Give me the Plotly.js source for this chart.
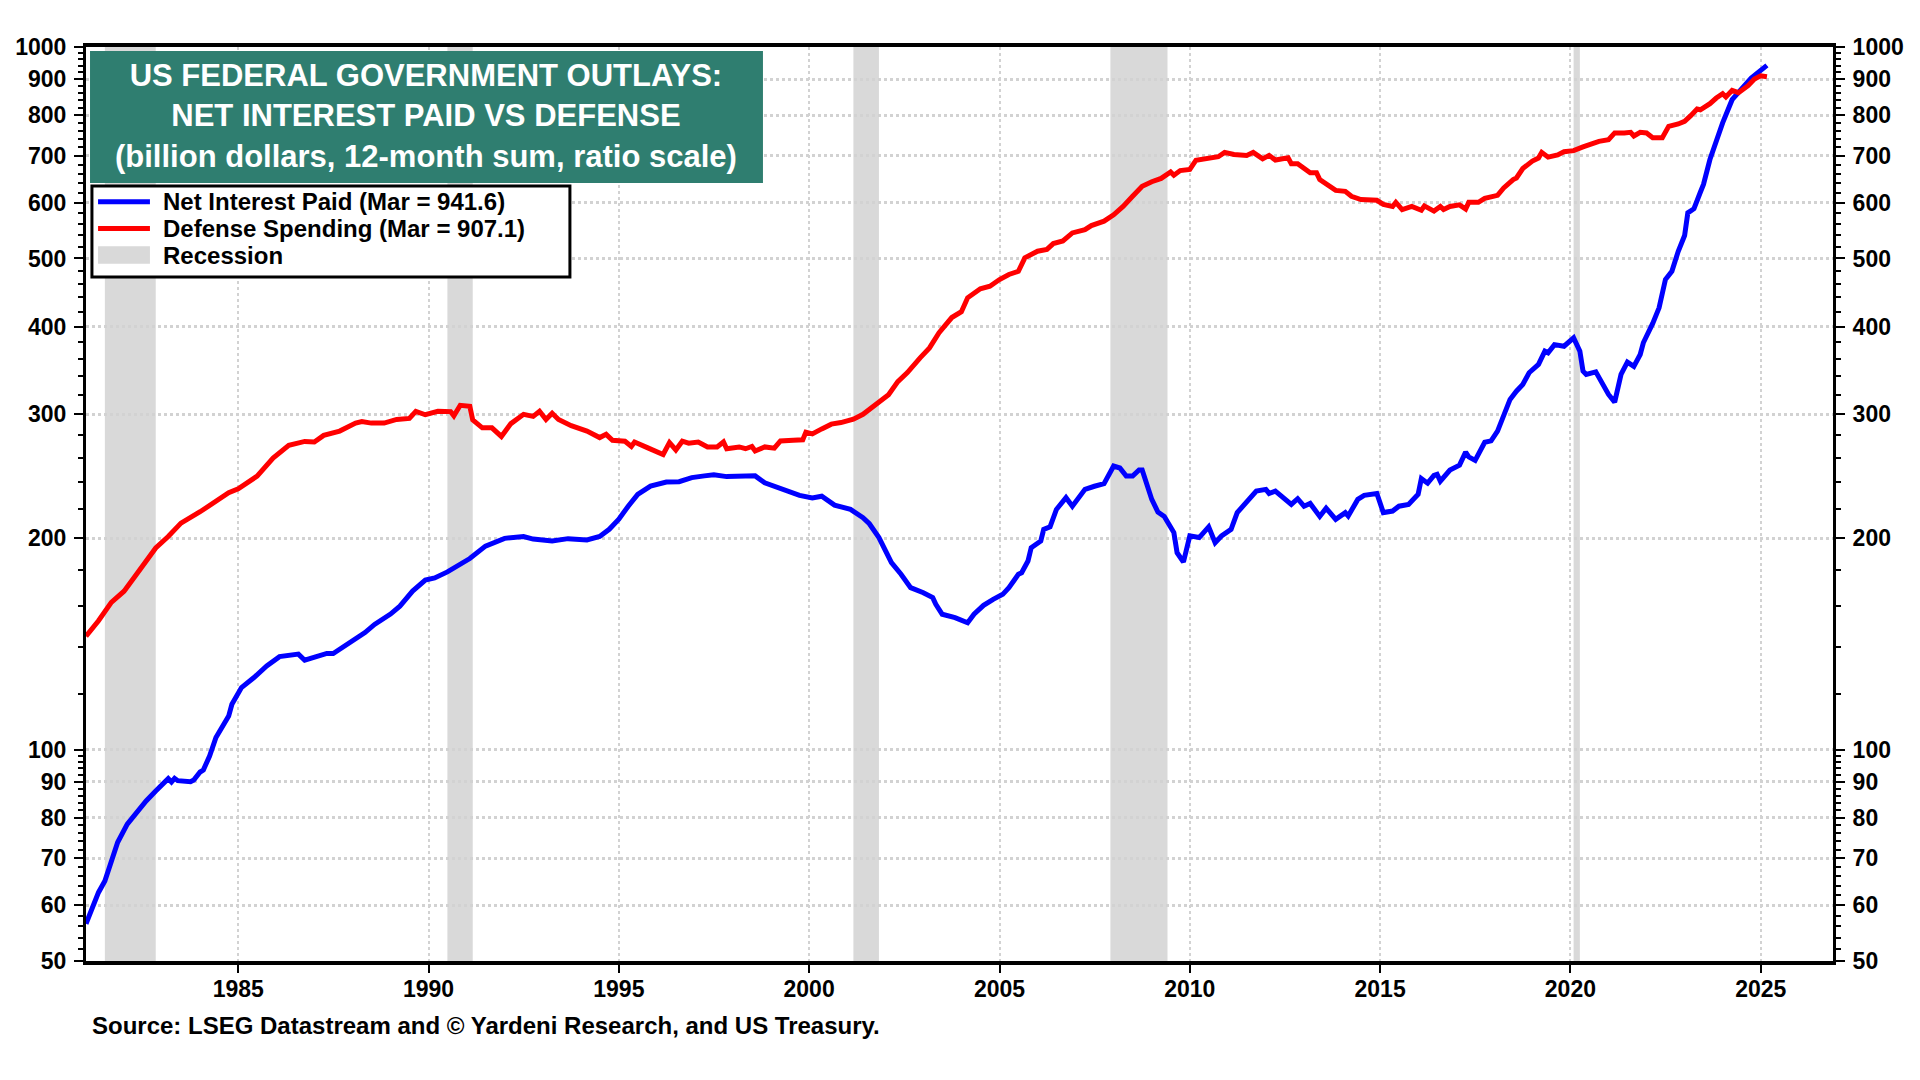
<!DOCTYPE html>
<html>
<head>
<meta charset="utf-8">
<script src="https://cdn.plot.ly/plotly-3.0.1.min.js"></script>
<style>
  html, body { margin: 0; padding: 0; background: #ffffff; }
  #chart { width: 1920px; height: 1080px; }
</style>
</head>
<body>
<div id="chart"></div>
<script>
// Net interest paid, 12-month sum, billion dollars
const interestDates = [
  "1981-01","1981-05","1981-07","1981-09","1981-11","1982-02","1982-05","1982-08","1982-11",
  "1983-03","1983-04","1983-05","1983-06","1983-10","1983-11","1984-01","1984-02","1984-04",
  "1984-06","1984-08","1984-10","1984-11","1985-02","1985-06","1985-10","1986-02","1986-05",
  "1986-08","1986-10","1987-01","1987-05","1987-07","1987-11","1988-02","1988-05","1988-08",
  "1989-01","1989-04","1989-08","1989-12","1990-03","1990-07","1990-11","1991-02","1991-07",
  "1992-01","1992-07","1992-10","1993-04","1993-09","1994-03","1994-07","1994-10","1995-01",
  "1995-04","1995-07","1995-11","1996-04","1996-08","1996-12","1997-04","1997-07","1997-11",
  "1998-03","1998-08","1998-11","1999-04","1999-10","2000-02","2000-05","2000-09","2001-02",
  "2001-06","2001-08","2001-11","2002-03","2002-06","2002-09","2003-01","2003-04","2003-05",
  "2003-07","2003-11","2004-01","2004-03","2004-05","2004-08","2004-11","2005-02","2005-04",
  "2005-07","2005-08","2005-10","2005-11","2006-02","2006-03","2006-05","2006-07","2006-10",
  "2006-12","2007-02","2007-04","2007-07","2007-10","2008-01","2008-03","2008-05","2008-07",
  "2008-09","2008-10","2009-01","2009-03","2009-05","2009-08","2009-09","2009-11","2010-01",
  "2010-04","2010-07","2010-09","2010-11","2011-02","2011-04","2011-08","2011-10","2012-01",
  "2012-02","2012-04","2012-07","2012-09","2012-11","2013-01","2013-03","2013-06","2013-08",
  "2013-11","2014-02","2014-03","2014-06","2014-08","2014-12","2015-02","2015-05","2015-07",
  "2015-10","2016-01","2016-02","2016-04","2016-06","2016-07","2016-08","2016-11","2017-02",
  "2017-04","2017-05","2017-07","2017-10","2017-12","2018-02","2018-04","2018-06","2018-08",
  "2018-10","2018-12","2019-03","2019-05","2019-06","2019-08","2019-11","2020-02","2020-04",
  "2020-05","2020-06","2020-09","2020-11","2021-01","2021-03","2021-05","2021-07","2021-09",
  "2021-11","2021-12","2022-03","2022-05","2022-07","2022-09","2022-11","2023-01","2023-02",
  "2023-04","2023-06","2023-07","2023-09","2023-11","2024-01","2024-04","2024-07","2024-10",
  "2025-03"
];
const interestValues = [
  56.5,62.6,65.0,69.8,73.8,78.3,81.4,84.5,87.3,
  90.9,89.9,91.0,90.3,90.0,90.5,92.9,93.5,97.9,
  104,107.5,111.6,116,122.5,126.6,131.5,135.6,136,
  136.7,134,135.3,137,137,140.7,143.6,146.7,150.7,
  155.9,160,168.1,174.3,175.5,179,183.5,187,194.8,
  199.8,201,199.3,198.1,199.6,198.8,201,205.8,212.7,
  222,230.8,237.1,240.3,240.6,243.8,245.2,246,244.6,
  245.2,245.2,239.7,235.6,230,228,229.4,222.8,219.7,
  213.8,209.6,200.3,184.5,177.6,170,167.2,164.5,161,
  155.8,154.1,152.5,151.5,155.8,160.4,163.6,166.3,170,
  177.6,178.5,185.5,193.8,198.1,205.8,207.5,219.7,228.3,
  222,228.3,234.6,237,239,253.2,251.6,245,245,
  250,250,227,217.8,214.7,203.6,190.6,184.9,201.4,
  200.3,207.5,197,201.4,205.8,217.4,228.3,233.3,234.6,
  231.5,233.3,227,223.3,227.5,222,224,214.7,220.6,
  212.6,217.4,215,227,230,231.5,217.4,218.5,222,
  223.3,230.8,243,239.4,245.6,246.5,241,249.9,254,
  265,261,258,273.8,275,284,298.3,315,323.6,
  330.8,343.8,353.3,369,367,377,375,385.5,369,
  345.6,342,344.8,332.7,320.2,312.2,342,355.9,351,
  365,379.3,404.1,425.3,466.7,479.5,512,539,580.7,
  588.6,621.2,637.2,691.5,738.2,779.8,841.4,871.5,903.4,
  941.6
];

// Defense spending, 12-month sum, billion dollars
const defenseDates = [
  "1981-01","1981-05","1981-09","1982-01","1982-05","1982-08","1982-11","1983-03","1983-07",
  "1984-01","1984-06","1984-10","1985-01","1985-07","1985-12","1986-05","1986-10","1987-01",
  "1987-04","1987-09","1988-02","1988-04","1988-07","1988-11","1989-03","1989-07","1989-09",
  "1989-12","1990-04","1990-08","1990-09","1990-11","1991-02","1991-03","1991-06","1991-09",
  "1991-12","1992-03","1992-07","1992-10","1992-12","1993-02","1993-04","1993-06","1993-10",
  "1994-03","1994-07","1994-09","1994-11","1995-03","1995-05","1995-06","1995-10","1996-01",
  "1996-03","1996-05","1996-07","1996-09","1996-11","1997-02","1997-05","1997-08","1997-10",
  "1997-11","1998-03","1998-05","1998-07","1998-08","1998-11","1999-02","1999-04","1999-08",
  "1999-11","1999-12","2000-02","2000-05","2000-08","2000-11","2001-03","2001-06","2001-09",
  "2001-11","2002-02","2002-05","2002-08","2002-12","2003-03","2003-06","2003-10","2004-01",
  "2004-03","2004-07","2004-10","2005-01","2005-04","2005-07","2005-09","2006-01","2006-04",
  "2006-06","2006-09","2006-12","2007-04","2007-06","2007-10","2008-01","2008-04","2008-07",
  "2008-10","2009-01","2009-04","2009-07","2009-08","2009-10","2010-01","2010-03","2010-07",
  "2010-10","2010-12","2011-03","2011-07","2011-09","2011-12","2012-02","2012-04","2012-08",
  "2012-09","2012-11","2013-03","2013-05","2013-06","2013-09","2013-11","2014-02","2014-04",
  "2014-07","2014-11","2014-12","2015-02","2015-05","2015-06","2015-08","2015-11","2016-02",
  "2016-03","2016-06","2016-08","2016-09","2016-11","2017-02","2017-04","2017-05","2017-08",
  "2017-10","2018-02","2018-04","2018-07","2018-08","2018-10","2019-01","2019-03","2019-04",
  "2019-06","2019-09","2019-11","2020-02","2020-05","2020-07","2020-10","2021-01","2021-03",
  "2021-06","2021-08","2021-09","2021-11","2022-01","2022-03","2022-06","2022-08","2022-11",
  "2023-01","2023-03","2023-05","2023-06","2023-09","2023-11","2024-01","2024-02","2024-04",
  "2024-06","2024-09","2024-11","2025-01","2025-03"
];
const defenseValues = [
  145,152.5,162,168,177.6,186,193.6,201,210,
  218,226,232,235,245,260,271,274.5,274,
  280,284,291.5,293,291.5,291.5,295,296,303,
  299.6,303,302.7,298.6,309,308,294.5,287,287,
  279,291,300,298,303,295,301,295,289,
  284,278,281,275.6,274.7,270,274,269,266,
  263,273.5,267,274.7,273,274,269.6,269.6,274,
  268,269.6,268,270,266,269.6,268.5,275,275.6,
  276,283,281.4,286,290.5,292,295.3,300,307,
  313,320,334,344,361,373,392,412,420,
  439.5,452.7,456.6,466.7,474.5,479.5,501,512,515,
  525,529.6,543.7,549.5,557,565,577,593,613,
  633.5,643,650,664,657,667,669.6,690,693.6,
  698,708,703,701,708,693,701,690.5,695.6,
  682,682,662,662,647.6,633.5,625,623,613,
  606.6,606.6,605,597,593,601,587,593,585.7,
  594,584,593,587,593,596,588,601,601,
  609,615,630,647.6,651,671.5,688,695,708,
  697,702,709.5,712,720.7,726.6,734,738,754.6,
  754.6,756,747,756,754.6,743,743,771,777,
  784,798.6,816,814,830.5,846,858,849,867.6,
  861,881,900.5,910,907.1
];

// NBER recessions
const recessionStarts = ["1981-07-01","1990-07-01","2001-03-01","2007-12-01","2020-02-01"];
const recessionEnds   = ["1982-11-01","1991-03-01","2001-11-01","2009-06-01","2020-04-01"];

const yTickValues = [50,60,70,80,90,100,200,300,400,500,600,700,800,900,1000];
const yTickLabels = ["50","60","70","80","90","100","200","300","400","500","600","700","800","900","1000"];

const legendLabels = ["Net Interest Paid (Mar = 941.6)", "Defense Spending (Mar = 907.1)", "Recession"];

const FONT = "Liberation Sans, Arial, sans-serif";
const BLUE = "#0000ff", RED = "#ff0000", GREY = "#d9d9d9";

const minorVals = [];
for (let v = 52; v < 100; v += 2) if (v % 10 !== 0) minorVals.push(v);
for (let v = 120; v < 1000; v += 20) if (v % 100 !== 0) minorVals.push(v);

const recessionShapes = recessionStarts.map((s, i) => ({
    type: "rect", xref: "x", yref: "paper",
    x0: s, x1: recessionEnds[i], y0: 0, y1: 1,
    fillcolor: GREY, line: {width: 0}, layer: "below"
}));

const traces = [
    {
        name: legendLabels[0],
        x: interestDates, y: interestValues,
        mode: "lines", type: "scatter",
        line: {color: BLUE, width: 5},
        showlegend: false, hoverinfo: "skip"
    },
    {
        name: legendLabels[1],
        x: defenseDates, y: defenseValues,
        mode: "lines", type: "scatter",
        line: {color: RED, width: 5},
        showlegend: false, hoverinfo: "skip"
    },
    {
        // carries the right-hand axis
        x: defenseDates, y: defenseValues, yaxis: "y2",
        mode: "lines", type: "scatter",
        line: {width: 0, color: "rgba(0,0,0,0)"},
        showlegend: false, hoverinfo: "skip"
    }
];

const yCommon = {
    type: "log",
    range: [Math.log10(50), Math.log10(1000)],
    tickmode: "array",
    tickvals: yTickValues,
    ticktext: yTickLabels,
    ticks: "outside", ticklen: 9, tickwidth: 2, tickcolor: "#000",
    ticklabelstandoff: 3,
    tickfont: {family: FONT, size: 23, color: "#000", weight: "bold"},
    showline: true, linecolor: "#000", linewidth: 3,
    minor: {tickmode: "array", tickvals: minorVals, ticks: "outside", ticklen: 5, tickwidth: 2, tickcolor: "#000", showgrid: false},
    zeroline: false, fixedrange: true
};

// boxed legend drawn in the upper-left corner (paper coordinates)
const legendBox = {x0: 0.0034, x1: 0.2770, y0: 0.7484, y1: 0.8479};
const legendRows = [0.8306, 0.8015, 0.7724];
const legendKeyX = [0.0069, 0.0366];
const legendTextX = 0.0430;

const legendShapes = [
    {type: "rect", xref: "paper", yref: "paper", x0: legendBox.x0, x1: legendBox.x1, y0: legendBox.y0, y1: legendBox.y1,
     fillcolor: "#ffffff", line: {color: "#000", width: 3}, layer: "above"},
    {type: "line", xref: "paper", yref: "paper", x0: legendKeyX[0], x1: legendKeyX[1], y0: legendRows[0], y1: legendRows[0],
     line: {color: BLUE, width: 5}, layer: "above"},
    {type: "line", xref: "paper", yref: "paper", x0: legendKeyX[0], x1: legendKeyX[1], y0: legendRows[1], y1: legendRows[1],
     line: {color: RED, width: 5}, layer: "above"},
    {type: "rect", xref: "paper", yref: "paper", x0: legendKeyX[0], x1: legendKeyX[1], y0: legendRows[2] - 0.0095, y1: legendRows[2] + 0.0095,
     fillcolor: GREY, line: {width: 0}, layer: "above"}
];

const legendNotes = legendLabels.map((t, i) => ({
    xref: "paper", yref: "paper", x: legendTextX, y: legendRows[i],
    xanchor: "left", yanchor: "middle", showarrow: false,
    text: t,
    font: {family: FONT, size: 24, color: "#000", weight: "bold"}
}));

const layout = {
    width: 1920, height: 1080,
    margin: {l: 86, r: 87, t: 47, b: 119},
    paper_bgcolor: "#ffffff", plot_bgcolor: "#ffffff",
    showlegend: false,
    hovermode: false,
    xaxis: {
        type: "date",
        range: ["1981-01-01", "2026-11-25"],
        tick0: "1985-01-01", dtick: "M60",
        tickformat: "%Y",
        ticks: "outside", ticklen: 8, tickwidth: 2, tickcolor: "#000",
        ticklabelstandoff: -4,
        tickfont: {family: FONT, size: 23, color: "#000", weight: "bold"},
        showgrid: true, gridcolor: "#d2d2d2", gridwidth: 2, griddash: "dot",
        showline: true, linecolor: "#000", linewidth: 4, mirror: true,
        zeroline: false, fixedrange: true
    },
    yaxis: Object.assign({}, yCommon, {
        side: "left",
        showgrid: true, gridcolor: "#d2d2d2", gridwidth: 3, griddash: "dot"
    }),
    yaxis2: Object.assign({}, yCommon, {
        side: "right", overlaying: "y", showgrid: false
    }),
    shapes: recessionShapes.concat([{
        type: "rect", xref: "paper", yref: "paper",
        x0: 0.0023, x1: 0.3875, y0: 0.8512, y1: 0.9956,
        fillcolor: "#2f7e70", line: {width: 0}, layer: "above"
    }], legendShapes),
    annotations: [
        {
            xref: "paper", yref: "paper", x: 0.1949, y: 0.9240,
            xanchor: "center", yanchor: "middle", showarrow: false, align: "center",
            text: "US FEDERAL GOVERNMENT OUTLAYS:<br>NET INTEREST PAID VS DEFENSE<br>(billion dollars, 12-month sum, ratio scale)",
            font: {family: FONT, size: 31, color: "#ffffff", weight: "bold"}
        },
        {
            xref: "paper", yref: "paper", x: 0.0023, y: -0.0711,
            xanchor: "left", yanchor: "middle", showarrow: false,
            text: "Source: LSEG Datastream and © Yardeni Research, and US Treasury.",
            font: {family: FONT, size: 24, color: "#000", weight: "bold"}
        }
    ].concat(legendNotes)
};

Plotly.newPlot("chart", traces, layout, {staticPlot: true, displayModeBar: false});
</script>
</body>
</html>
